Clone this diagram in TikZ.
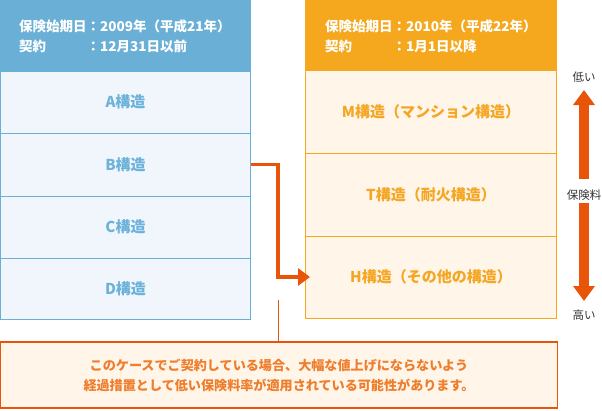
\documentclass[tikz,border=0pt]{standalone}
\usepackage{fontspec}
\setmainfont{Noto Sans CJK JP}
\usetikzlibrary{arrows.meta}
\definecolor{bhead}{HTML}{6AAFD6}
\definecolor{btext}{HTML}{6CB2DA}
\definecolor{bfill}{HTML}{F0F6FB}
\definecolor{ohead}{HTML}{F5A81E}
\definecolor{otext}{HTML}{F5A623}
\definecolor{ofill}{HTML}{FFF5E9}
\definecolor{arr}{HTML}{E8540A}
\definecolor{ntext}{HTML}{EE7D2C}
\definecolor{gtext}{HTML}{333333}
\begin{document}
\begin{tikzpicture}[x=1pt,y=-1pt,
  lhead/.style={fill=bhead, draw=bhead, line width=1pt, minimum width=250pt, inner sep=0pt, outer sep=0pt},
  rhead/.style={fill=ohead, draw=ohead, line width=1pt, minimum width=251pt, inner sep=0pt, outer sep=0pt},
  htext/.style={text=white, font=\bfseries\fontsize{13.5}{20}\selectfont, inner sep=0pt, anchor=west},
  lrow/.style={draw=bhead, fill=bfill, line width=1pt, text=btext, font=\bfseries\fontsize{15}{17}\selectfont, minimum width=250pt, inner sep=0pt, outer sep=0pt, anchor=north},
  rrow/.style={draw=ohead, fill=ofill, line width=1pt, text=otext, font=\bfseries\fontsize{15}{17}\selectfont, minimum width=251pt, inner sep=0pt, outer sep=0pt, anchor=north},
  note/.style={draw=arr, fill=ofill, line width=1.2pt, text=ntext, font=\bfseries\fontsize{13.1}{20}\selectfont, align=center, minimum width=557pt, minimum height=66pt, inner sep=0pt},
  side/.style={text=gtext, font=\fontsize{11.5}{13}\selectfont, inner sep=0pt},
  elbow/.style={draw=arr, line width=3.5pt, -{Triangle[length=12pt,width=17pt]}},
  fat/.style={draw=arr, line width=10pt, -{Triangle[length=15pt,width=21pt]}},
  thin/.style={draw=arr, line width=1pt}
]
\useasboundingbox (0,0) rectangle (602,410);
% left column
\node[lhead, minimum height=70.5pt, anchor=north] (lh) at (125.5,0.5) {};
\node[lrow, minimum height=62pt] (A) at (125.5,71) {A構造};
\node[lrow, minimum height=63pt] (B) at (125.5,133) {B構造};
\node[lrow, minimum height=62pt] (C) at (125.5,196) {C構造};
\node[lrow, minimum height=61pt] (D) at (125.5,258) {D構造};
\node[htext] (lht) at (19,37) {\begin{tabular}{@{}l@{}l@{}}保険始期日&：2009年（平成21年）\\契約&：12月31日以前\end{tabular}};
% right column
\node[rhead, minimum height=69.5pt, anchor=north] (rh) at (431,0.5) {};
\node[rrow, minimum height=83pt] (M) at (431,70) {M構造（マンション構造）};
\node[rrow, minimum height=83pt] (T) at (431,153) {T構造（耐火構造）};
\node[rrow, minimum height=82pt] (H) at (431,236) {H構造（その他の構造）};
\node[htext] (rht) at (325,37) {\begin{tabular}{@{}l@{}l@{}}保険始期日&：2010年（平成22年）\\契約&：1月1日以降\end{tabular}};
% side scale
\node[side] (low) at (584,77) {低い};
\node[side] (fee) at (584,195) {保険料};
\node[side] (high) at (584,315) {高い};
\draw[fat] ([yshift=16pt]fee.center) -- ([yshift=-13pt]low.center);
\draw[fat] ([yshift=-8pt]fee.center) -- ([yshift=14pt]high.center);
% note
\node[note] (note) at (279,375) {このケースでご契約している場合、大幅な値上げにならないよう\\経過措置として低い保険料率が適用されている可能性があります。};
% connectors
\draw[elbow] (B.east) -| ([xshift=-27.5pt]H.west) -- ([xshift=4.5pt]H.west);
\coordinate (t) at (278.5,300);
\draw[thin] (t) -- (t |- note.north);
\end{tikzpicture}
\end{document}
